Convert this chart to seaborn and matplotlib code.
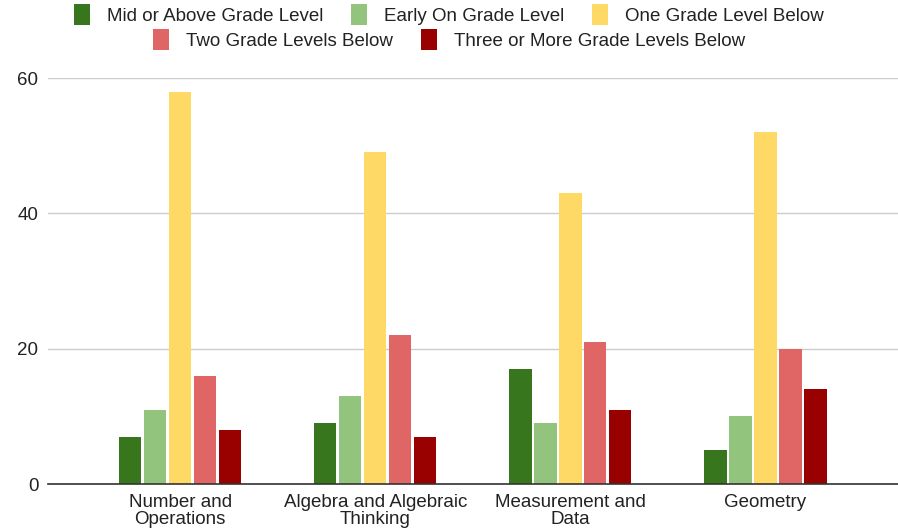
import pandas as pd
import matplotlib.pyplot as plt
import seaborn as sns

# -----------------------------
# Data
# -----------------------------
domains = ["Number and\nOperations", "Algebra and Algebraic\nThinking",
           "Measurement and\nData", "Geometry"]
levels = ["Mid or Above Grade Level", "Early On Grade Level",
          "One Grade Level Below", "Two Grade Levels Below",
          "Three or More Grade Levels Below"]
mid_or_above = [7, 9, 17, 5]
early_on = [11, 13, 9, 10]
one_below = [58, 49, 43, 52]
two_below = [16, 22, 21, 20]
three_or_more = [8, 7, 11, 14]
colors = ["#38761d", "#93c47d", "#ffd966", "#e06666", "#990000"]

series = [mid_or_above, early_on, one_below, two_below, three_or_more]
rows = []
for level, vals in zip(levels, series):
    for d, v in zip(domains, vals):
        rows.append({"domain": d, "level": level, "value": v})
df = pd.DataFrame(rows)

# -----------------------------
# Plot
# -----------------------------
sns.set_style("white")
plt.rcParams["font.family"] = ["Liberation Sans", "DejaVu Sans"]

fig = plt.figure(figsize=(8.98, 5.31), dpi=100)
ax = fig.add_axes([0.0535, 0.0885, 0.9465, 0.7645])

sns.barplot(
    data=df, x="domain", y="value", hue="level",
    order=domains, hue_order=levels, palette=colors,
    width=0.64, gap=0.1, saturation=1, linewidth=0,
    ax=ax, legend=False,
)

ax.set_ylim(0, 60)
ax.set_xlim(-0.677, 3.68)
ax.set_yticks([0, 20, 40, 60])
ax.yaxis.grid(True, color="#cccccc", lw=1)
ax.set_axisbelow(True)
for s in ["top", "right", "left"]:
    ax.spines[s].set_visible(False)
ax.spines["bottom"].set_color("#333333")
ax.spines["bottom"].set_linewidth(1.2)
ax.set_xlabel("")
ax.set_ylabel("")
ax.tick_params(axis="both", length=0, labelsize=13.5, labelcolor="#222222")
ax.tick_params(axis="y", pad=7)
ax.tick_params(axis="x", pad=7)
for t in ax.get_xticklabels():
    t.set_linespacing(1.05)

# legend in two centered rows
handles = [plt.Rectangle((0, 0), 1, 1, fc=c, ec="none") for c in colors]
leg_kw = dict(frameon=False, fontsize=13.5, labelcolor="#222222",
              handlelength=0.85, handleheight=1.35, handletextpad=0.9,
              columnspacing=1.5, loc="center")
fig.legend(handles[:3], levels[:3], ncol=3,
           bbox_to_anchor=(0.5, 0.973), **leg_kw)
fig.legend(handles[3:], levels[3:], ncol=2,
           bbox_to_anchor=(0.5, 0.925), **leg_kw)

fig.savefig("out.png", dpi=100)
